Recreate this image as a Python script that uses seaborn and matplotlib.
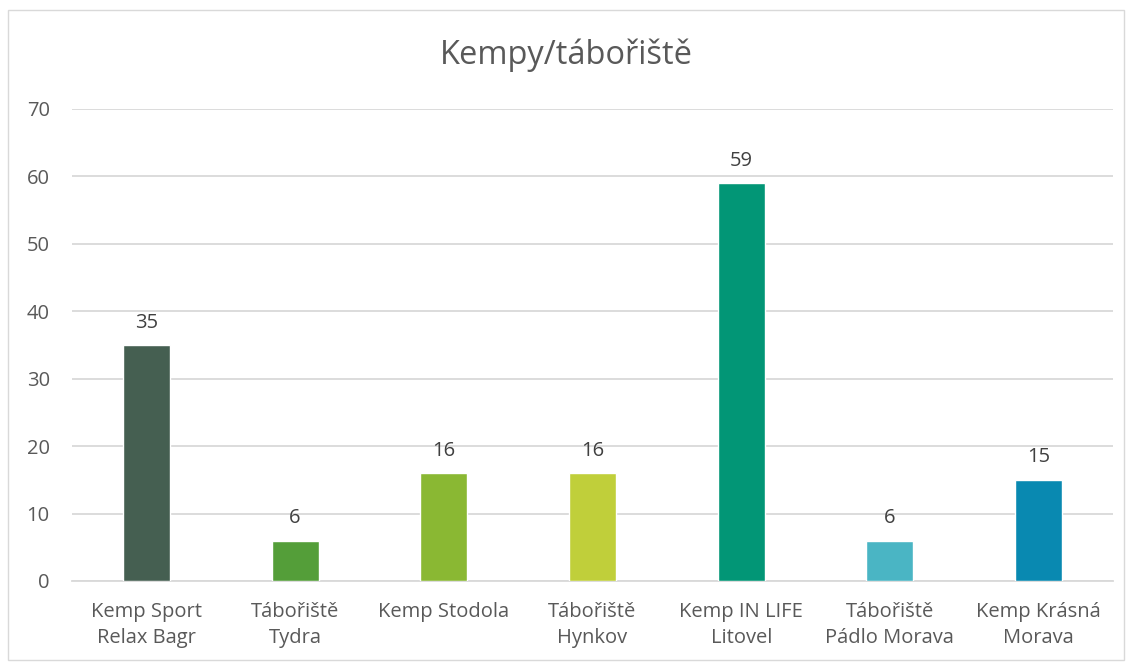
import matplotlib
matplotlib.use("Agg")
import matplotlib.pyplot as plt
import seaborn as sns
import pandas as pd

# data
kempy = ["Kemp Sport\nRelax Bagr", "Tábořiště\nTydra", "Kemp Stodola",
         "Tábořiště\nHynkov", "Kemp IN LIFE\nLitovel", "Tábořiště\nPádlo Morava",
         "Kemp Krásná\nMorava"]
pocty = [35, 6, 16, 16, 59, 6, 15]
barvy = ["#455F51", "#549E39", "#8AB833", "#C0CF3A", "#029676", "#4AB5C4", "#0989B1"]

df = pd.DataFrame({"kemp": kempy, "pocet": pocty})

sns.set_theme(style="white")
plt.rcParams["font.family"] = ["Open Sans", "DejaVu Sans"]
text_col = "#595959"

fig = plt.figure(figsize=(11.32, 6.63), dpi=100)
ax = fig.add_axes([72 / 1132, 1 - 581 / 663, (1113 - 72) / 1132, (581 - 109) / 663])

sns.barplot(data=df, x="kemp", y="pocet", hue="kemp", palette=barvy,
            legend=False, width=0.316, saturation=1, ax=ax, zorder=3)

for i, v in enumerate(pocty):
    ax.annotate(str(v), (i, v), xytext=(0, 9), textcoords="offset points",
                ha="center", va="bottom", fontsize=14.5, color="#404040")

ax.set_ylim(0, 70)
ax.set_yticks(range(0, 71, 10))
ax.set_xlim(-0.5, len(kempy) - 0.5)
ax.yaxis.grid(True, color="#D9D9D9", lw=1.3, zorder=0)
ax.set_xlabel("")
ax.set_ylabel("")
for s in ["top", "right", "left"]:
    ax.spines[s].set_visible(False)
ax.spines["bottom"].set_color("#D9D9D9")
ax.spines["bottom"].set_linewidth(1.3)
ax.tick_params(axis="both", length=0, labelsize=14.5, colors=text_col)
ax.tick_params(axis="x", pad=15)
ax.tick_params(axis="y", pad=16)
for t in ax.get_xticklabels():
    t.set_linespacing(1.4)

fig.text(0.5, 1 - 55 / 663, "Kempy/tábořiště", ha="center", va="center",
         fontsize=23.5, color=text_col)

# chart area border
fig.patches.append(plt.Rectangle((8 / 1132, 3 / 663), 1116 / 1132, 650 / 663,
                                 transform=fig.transFigure, fill=False,
                                 edgecolor="#D9D9D9", lw=1))

fig.savefig("out.png", dpi=100)
